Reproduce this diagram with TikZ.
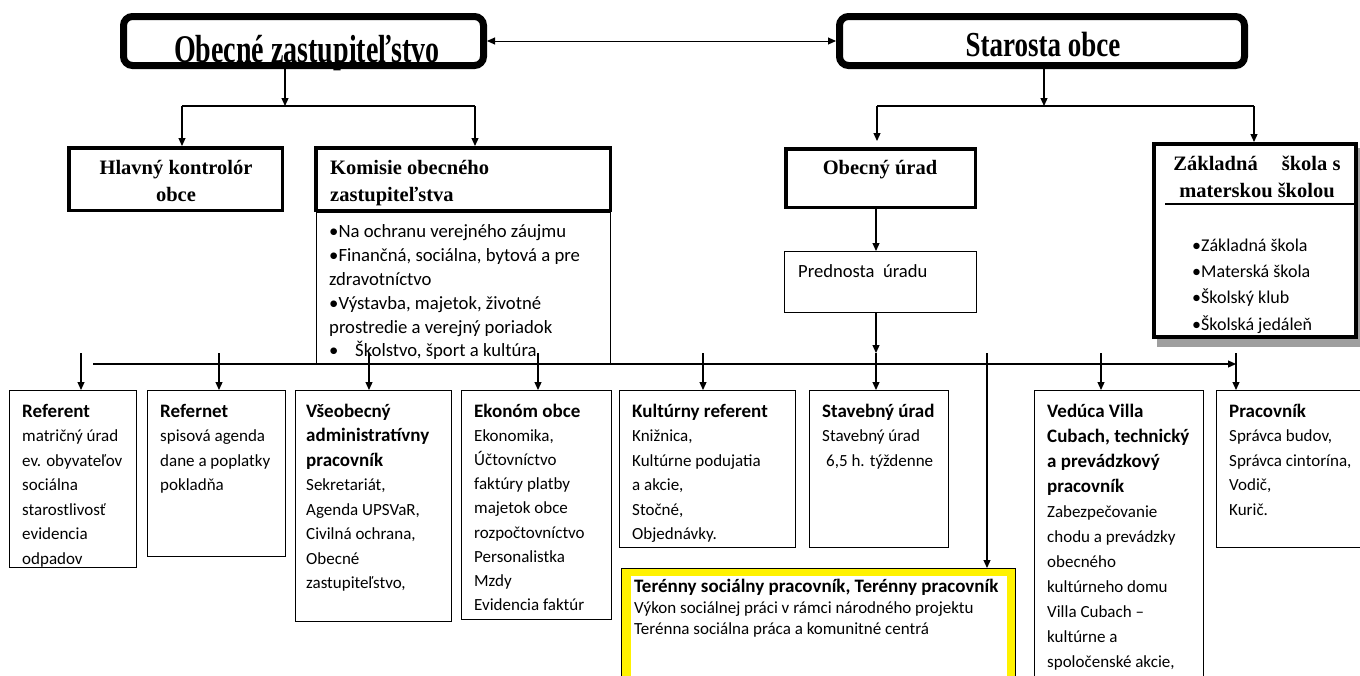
\documentclass[tikz,border=0pt]{standalone}
\usepackage{graphicx}
\usepackage{fontspec}
\setmainfont{Liberation Serif}
\newfontfamily\calib{Carlito}
\usetikzlibrary{arrows.meta,positioning}
\newcommand{\boxhead}[1]{{\fontsize{19}{24.5}\selectfont\bfseries #1}}

\begin{document}
\begin{tikzpicture}[x=1pt, y=-1pt,
        arr/.style={line width=1.2pt, -{Triangle[length=8pt,width=7pt]}},
        link/.style={line width=1.2pt},
        bigbox/.style={draw, line width=7pt, rounded corners=9pt, minimum height=49pt, inner sep=0pt},
        headbox/.style={draw, line width=3.5pt, inner sep=0pt, fill=white},
        thinbox/.style={draw, line width=1.2pt, inner sep=0pt, fill=white},
        bigtitle/.style={font=\bfseries\fontsize{27}{32}\selectfont, anchor=base, inner sep=0pt},
        headtext/.style={font=\bfseries\fontsize{20.5}{27}\selectfont, inner sep=0pt},
        bodytext/.style={font=\calib\fontsize{17}{24.5}\selectfont, align=left, inner sep=0pt}]
        \useasboundingbox (0, 0) rectangle (1360, 675);
        \clip (0, 0) rectangle (1360, 675);

        \node[bigbox, minimum width=360pt] (zast) at (303.5, 41) {};
        \node[bigbox, minimum width=405pt] (star) at (1042, 41) {};
        \node[bigtitle, font=\bfseries\fontsize{28}{32}\selectfont] (zastt) at (307, 62) {\scalebox{1}[1.4]{Obecné zastupiteľstvo}};
        \node[bigtitle] (start) at (1043, 56) {\scalebox{1}[1.3]{Starosta obce}};
        \draw[line width=1pt, {Triangle[length=8pt,width=7pt]}-{Triangle[length=8pt,width=7pt]}] (zast) -- (star);

        \node[thinbox, minimum width=293.8pt, minimum height=150.8pt, anchor=north] (koml) at (463.5, 212) {};
        \node[headbox, minimum width=213.5pt, minimum height=62.5pt] (hlk) at (175.5, 179) {};
        \node[headtext, align=center, anchor=north] (hlkt) at (176, 155) {\strut Hlavný kontrolór\\obce};
        \node[headbox, minimum width=294.5pt, minimum height=62.5pt] (kom) at (463, 179) {};
        \node[headtext, align=left, anchor=north west] (komt) at (330, 155) {\strut Komisie obecného\\zastupiteľstva};
        \node[font=\calib\fontsize{18.7}{23.8}\selectfont, align=left, inner sep=0pt, anchor=north west] (komlt) at (329, 221)
                {\strut •Na ochranu verejného záujmu\\•Finančná, sociálna, bytová a pre\\zdravotníctvo\\•Výstavba, majetok, životné\\prostredie a verejný poriadok\\\makebox[26pt][l]{•}Školstvo, šport a kultúra};

        \coordinate (zs1) at (285, 106);
        \coordinate (zl) at (182, 106);
        \coordinate (zr) at (475, 106);
        \draw[arr] (zast.south -| zs1) -- (zs1);
        \draw[link] (zl) -- (zr);
        \draw[arr] (zl) -- (zl |- hlk.north);
        \draw[arr] (zr) -- (zr |- kom.north);

        \node[headbox, minimum width=189.5pt, minimum height=58.5pt] (obu) at (880.5, 178) {};
        \node[headtext, anchor=north] (obut) at (880, 155) {\strut Obecný úrad};
        \node[thinbox, minimum width=191.8pt, minimum height=60.8pt] (pred) at (880.5, 282) {};
        \node[font=\calib\fontsize{18.6}{24}\selectfont, inner sep=0pt, anchor=base west] (predt) at (798, 277) {Prednosta~ úradu};

        \fill[gray!75] (1157, 148) rectangle (1366, 347);
        \node[headbox, line width=4pt, minimum width=202pt, minimum height=193pt] (zs) at (1255, 240.5) {};
        \coordinate (zsl) at (1165, 204);
        \draw[link] (zsl) -- (zsl -| zs.east);
        \node[headtext, align=center, anchor=north] (zst) at (1257, 151) {\strut Základná\hspace{19pt} škola s\\materskou školou};
        \node[font=\calib\fontsize{18}{26.3}\selectfont, align=left, inner sep=0pt, anchor=north west] (zsb) at (1192, 232.6)
                {\strut •Základná škola\\•Materská škola\\•Školský klub\\•Školská jedáleň};

        \coordinate (ss) at (1044, 106);
        \coordinate (sl) at (877, 106);
        \coordinate (sr) at (1254, 106);
        \draw[arr] (star.south -| ss) -- (ss);
        \draw[link] (sl) -- (sr);
        \draw[arr, shorten >=6pt] (sl) -- (sl |- obu.north);
        \draw[arr] (sr) -- (sr |- zs.north);

        \node[thinbox, minimum width=126.8pt, minimum height=176.8pt] (ref) at (73, 479) {};
        \node[bodytext, below right=10pt and 13pt of ref.north west] (reft)
                {\strut\boxhead{Referent}\\matričný úrad\\ev. obyvateľov\\sociálna\\starostlivosť\\evidencia\\odpadov};
        \node[thinbox, minimum width=137.8pt, minimum height=165.8pt] (refn) at (216.5, 473.5) {};
        \node[bodytext, below right=10pt and 13pt of refn.north west] (refnt)
                {\strut\boxhead{Refernet}\\spisová agenda\\dane a poplatky\\pokladňa};
        \node[thinbox, minimum width=155.8pt, minimum height=230.8pt] (vap) at (373.5, 506) {};
        \node[bodytext, below right=10pt and 11pt of vap.north west] (vapt)
                {\strut\boxhead{Všeobecný}\\\boxhead{administratívny}\\\boxhead{pracovník}\\Sekretariát,\\Agenda UPSVaR,\\Civilná ochrana,\\Obecné\\zastupiteľstvo,};
        \node[thinbox, minimum width=149.8pt, minimum height=228.8pt] (ekon) at (536.5, 505) {};
        \node[bodytext, font=\calib\fontsize{17}{24.2}\selectfont, below right=10pt and 13pt of ekon.north west] (ekont)
                {\strut\boxhead{Ekonóm obce}\\Ekonomika,\\Účtovníctvo\\faktúry platby\\majetok obce\\rozpočtovníctvo\\Personalistka\\Mzdy\\Evidencia faktúr};
        \node[thinbox, minimum width=175.8pt, minimum height=156.8pt] (kult) at (707.5, 469) {};
        \node[bodytext, below right=10pt and 13pt of kult.north west] (kultt)
                {\strut\boxhead{Kultúrny referent}\\Knižnica,\\Kultúrne podujatia\\a akcie,\\Stočné,\\Objednávky.};
        \node[thinbox, minimum width=138.8pt, minimum height=156.8pt] (stav) at (879, 469) {};
        \node[bodytext, below right=10pt and 13pt of stav.north west] (stavt)
                {\strut\boxhead{Stavebný úrad}\\Stavebný úrad\\\hspace*{4pt}6,5 h. týždenne};
        \node[thinbox, minimum width=168.8pt, minimum height=308.8pt] (ved) at (1119, 545) {};
        \node[bodytext, font=\calib\fontsize{17}{25}\selectfont, below right=10pt and 13pt of ved.north west] (vedt)
                {\strut\boxhead{Vedúca Villa}\\\boxhead{Cubach, technický}\\\boxhead{a prevádzkový}\\\boxhead{pracovník}\\Zabezpečovanie\\chodu a prevádzky\\obecného\\kultúrneho domu\\Villa Cubach –\\kultúrne a\\spoločenské akcie,};
        \node[thinbox, minimum width=162.8pt, minimum height=156.8pt] (prac) at (1298, 469) {};
        \node[bodytext, below right=10pt and 13pt of prac.north west] (pract)
                {\strut\boxhead{Pracovník}\\Správca budov,\\Správca cintorína,\\Vodič,\\Kurič.};

        \node[draw, line width=1.2pt, fill=yellow, inner sep=0pt, minimum width=393.8pt, minimum height=120.8pt] (tsp) at (818.5, 629) {};
        \node[fill=white, inner sep=0pt, minimum width=376pt, minimum height=124pt, anchor=north west] (tspin) at (631, 576) {};
        \node[font=\calib\fontsize{17}{21}\selectfont, align=left, inner sep=0pt, anchor=north west] (tspt) at (634, 578)
                {\strut{\fontsize{19}{21}\selectfont\bfseries Terénny sociálny pracovník, Terénny pracovník}\\Výkon sociálnej práci v rámci národného projektu\\Terénna sociálna práca a komunitné centrá};

        \coordinate (busl) at (93, 364);
        \coordinate (busr) at (1236, 364);
        \draw[arr] (busl) -- (busr);
        \coordinate (t1) at (81, 353);
        \coordinate (t2) at (219, 353);
        \coordinate (t3) at (369, 353);
        \coordinate (t4) at (538, 353);
        \coordinate (t5) at (703, 353);
        \coordinate (t6) at (876, 353);
        \coordinate (t7) at (987, 353);
        \coordinate (t8) at (1101, 353);
        \coordinate (t9) at (1236, 353);
        \draw[arr] (obu.south -| t6) -- (pred.north -| t6);
        \draw[arr] (pred.south -| t6) -- (t6);
        \draw[arr] (t1) -- (t1 |- ref.north);
        \draw[arr] (t2) -- (t2 |- refn.north);
        \draw[arr] (t3) -- (t3 |- vap.north);
        \draw[arr] (t4) -- (t4 |- ekon.north);
        \draw[arr] (t5) -- (t5 |- kult.north);
        \draw[arr] (t6) -- (t6 |- stav.north);
        \draw[arr] (t7) -- (t7 |- tsp.north);
        \draw[arr] (t8) -- (t8 |- ved.north);
        \draw[arr] (t9) -- (t9 |- prac.north);
\end{tikzpicture}
\end{document}
